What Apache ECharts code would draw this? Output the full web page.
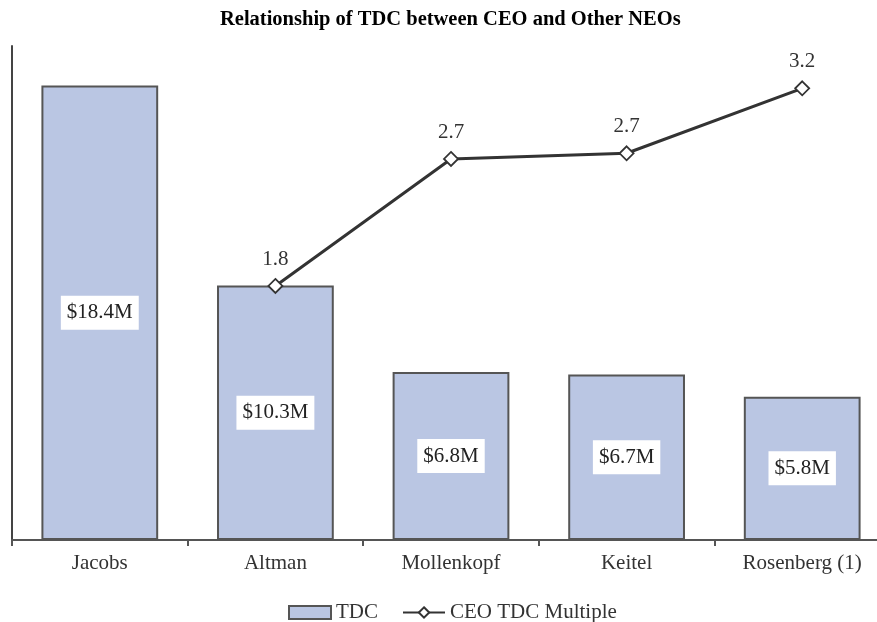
<!DOCTYPE html>
<html>
<head>
<meta charset="utf-8">
<script src="https://cdn.jsdelivr.net/npm/echarts@6/dist/echarts.min.js"></script>
<style>html,body{margin:0;padding:0;background:#fff;overflow:hidden;width:877px;height:622px;}#c{width:890px;height:622px;}</style>
</head>
<body>
<div id="c"></div>
<script>
const categories = ['Jacobs', 'Altman', 'Mollenkopf', 'Keitel', 'Rosenberg (1)'];
const tdcValues = [18.4, 10.3, 6.8, 6.7, 5.8];
const multipleValues = [null, 1.8, 2.7, 2.74, 3.2];
const seriesNames = ['TDC', 'CEO TDC Multiple'];

const font = 'Liberation Serif, Times New Roman, serif';
const chart = echarts.init(document.getElementById('c'));
chart.setOption({
  animation: false,
  title: {
    text: 'Relationship of TDC between CEO and Other NEOs',
    left: 215, top: 4,
    textStyle: {fontFamily: font, fontWeight: 'bold', fontSize: 20.5, color: '#000'}
  },
  legend: {
    data: [{name: seriesNames[0], icon: 'rect'}, {name: seriesNames[1]}],
    left: 283, top: 597,
    itemWidth: 42, itemHeight: 13, itemGap: 24,
    textStyle: {fontFamily: font, fontSize: 21, color: '#333'}
  },
  grid: {left: 12, right: 0, top: 46, bottom: 82},
  xAxis: {
    type: 'category', data: categories,
    axisLine: {lineStyle: {color: '#555', width: 2}},
    axisTick: {show: true, length: 6, lineStyle: {color: '#555', width: 2}},
    axisLabel: {fontFamily: font, fontSize: 21, color: '#333', margin: 13}
  },
  yAxis: [
    {type: 'value', min: 0, max: 20, axisLine: {show: true, lineStyle: {color: '#444', width: 2}},
     axisTick: {show: false}, axisLabel: {show: false}, splitLine: {show: false}},
    {type: 'value', min: 0, max: 3.5, show: false, splitLine: {show: false}}
  ],
  series: [
    {
      name: seriesNames[0], type: 'bar', data: tdcValues, barWidth: '66.5%',
      itemStyle: {color: '#BAC6E3', borderColor: '#555', borderWidth: 2},
      label: {show: true, position: 'inside', formatter: p => '$' + p.value.toFixed(1) + 'M',
        backgroundColor: '#fff', padding: [7, 6, 6, 6],
        fontFamily: font, fontSize: 21, color: '#222'}
    },
    {
      name: seriesNames[1], type: 'line', yAxisIndex: 1, data: multipleValues,
      symbol: 'diamond', symbolSize: 14,
      lineStyle: {color: '#333', width: 3},
      itemStyle: {color: '#fff', borderColor: '#333', borderWidth: 1.8},
      label: {show: true, position: 'top', distance: 8, formatter: p => p.value.toFixed(1),
        fontFamily: font, fontSize: 21, color: '#333'}
    }
  ]
});
</script>
</body>
</html>
